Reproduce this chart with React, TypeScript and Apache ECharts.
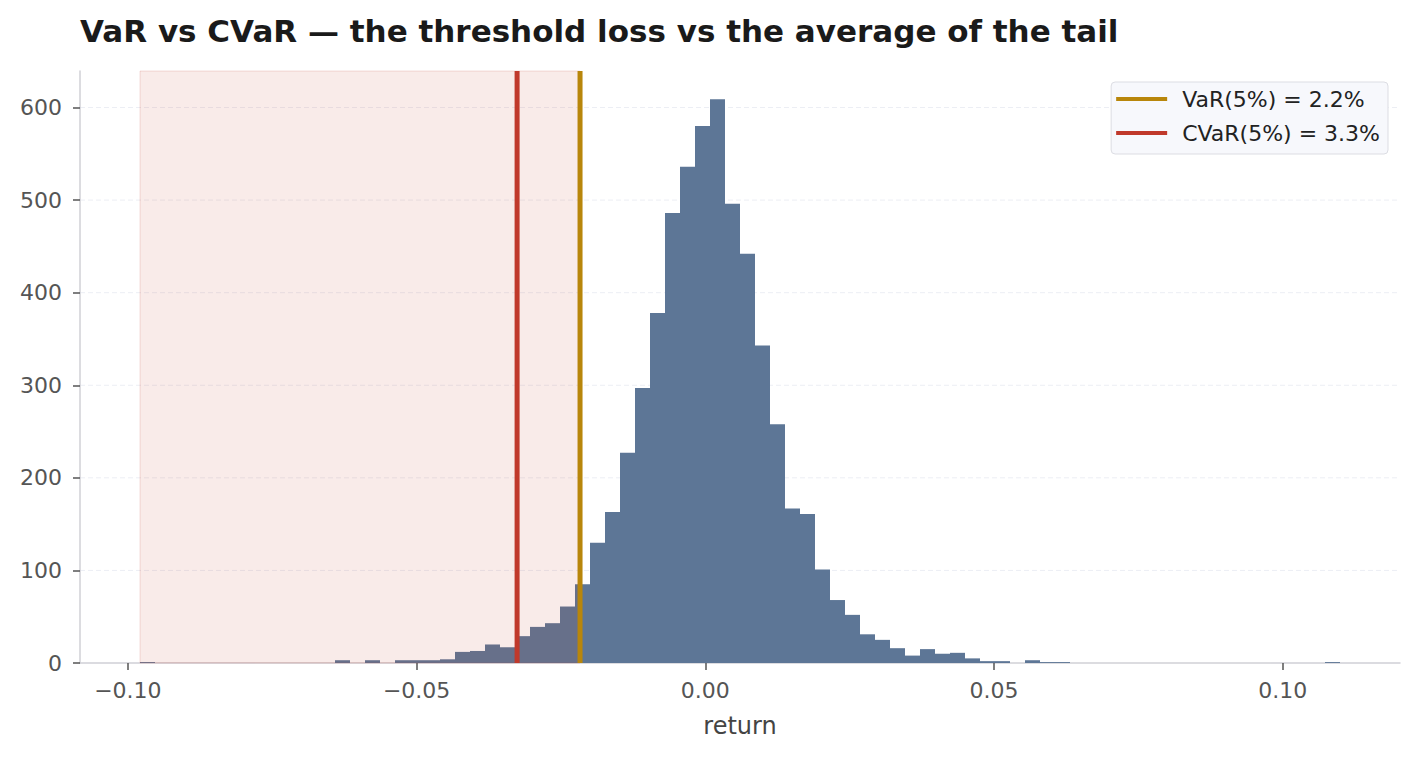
import React, { useEffect, useRef } from "react";
import * as echarts from "echarts";

// Histogram of daily returns: range of the sample and counts per bin (80 equal bins)
const RETURN_MIN = -0.0979;
const RETURN_MAX = 0.1099;
const BIN_COUNTS = [
  1, 0, 0, 0, 0, 0, 0, 0, 0, 0,
  0, 0, 0, 3, 0, 3, 0, 3, 3, 3,
  4, 12, 13, 20, 17, 29, 39, 43, 61, 85,
  130, 163, 227, 297, 378, 486, 536, 580, 609, 496,
  442, 343, 258, 167, 161, 101, 68, 52, 31, 25,
  16, 8, 15, 10, 11, 5, 2, 2, 0, 3,
  1, 1, 0, 0, 0, 0, 0, 0, 0, 0,
  0, 0, 0, 0, 0, 0, 0, 0, 0, 1,
];

// Risk measures at the 5% level (as positive losses)
const VAR_5 = 0.0217;
const CVAR_5 = 0.0326;

const X_TICKS = [-0.1, -0.05, 0, 0.05, 0.1];
const Y_TICKS = [0, 100, 200, 300, 400, 500, 600];

const BAR_COLOR = "#5d7696";
const VAR_COLOR = "#b8860b";
const CVAR_COLOR = "#c0392b";
const FONT = "DejaVu Sans";

export default function App() {
  const ref = useRef<HTMLDivElement>(null);

  useEffect(() => {
    if (!ref.current) return;
    const chart = echarts.init(ref.current, undefined, { renderer: "svg" });

    const nBins = BIN_COUNTS.length;
    const width = (RETURN_MAX - RETURN_MIN) / nBins;
    const bins = BIN_COUNTS.map((c, i) => [
      RETURN_MIN + i * width,
      RETURN_MIN + (i + 1) * width,
      c,
    ]);
    const span = RETURN_MAX - RETURN_MIN;
    const xMin = RETURN_MIN - 0.05 * span;
    const xMax = RETURN_MAX + 0.05 * span;
    const yMax = Math.max(...BIN_COUNTS) * 1.05;

    const varLabel = `VaR(5%) = ${(VAR_5 * 100).toFixed(1)}%`;
    const cvarLabel = `CVaR(5%) = ${(CVAR_5 * 100).toFixed(1)}%`;

    chart.setOption({
      animation: false,
      backgroundColor: "#ffffff",
      textStyle: { fontFamily: FONT },
      title: {
        text: "VaR vs CVaR — the threshold loss vs the average of the tail",
        left: 75,
        top: 10,
        textStyle: { fontFamily: FONT, fontSize: 31, fontWeight: "bold", color: "#1a1a1a" },
      },
      legend: {
        orient: "vertical",
        right: 32,
        top: 82,
        data: [varLabel, cvarLabel],
        icon: "rect",
        itemWidth: 51,
        itemHeight: 4,
        itemGap: 12,
        padding: [6, 8, 10, 5],
        backgroundColor: "#f7f8fc",
        borderColor: "#dcdde3",
        borderWidth: 1,
        borderRadius: 4,
        textStyle: {
          fontFamily: FONT,
          fontSize: 22,
          lineHeight: 22,
          color: "#222",
          padding: [0, 0, 0, 10],
        },
      },
      grid: { left: 80, right: 20, top: 71, bottom: 97, containLabel: false },
      xAxis: {
        type: "value",
        min: xMin,
        max: xMax,
        name: "return",
        nameLocation: "middle",
        nameGap: 51,
        nameTextStyle: { fontFamily: FONT, fontSize: 24, color: "#444" },
        axisLine: { show: true, onZero: false, lineStyle: { color: "#d0d0d6", width: 1.5 } },
        axisTick: { show: true, customValues: X_TICKS, length: 7, lineStyle: { color: "#555", width: 1.5 } },
        axisLabel: {
          customValues: X_TICKS,
          formatter: (v: number) => v.toFixed(2).replace("-", "\u2212"),
          color: "#555",
          fontSize: 22,
          margin: 16,
        },
        splitLine: { show: false },
      },
      yAxis: {
        type: "value",
        min: 0,
        max: yMax,
        axisLine: { show: true, onZero: false, lineStyle: { color: "#d0d0d6", width: 1.5 } },
        axisTick: { show: true, customValues: Y_TICKS, length: 7, lineStyle: { color: "#555", width: 1.5 } },
        axisLabel: { customValues: Y_TICKS, color: "#555", fontSize: 22, margin: 18 },
        splitLine: { show: false },
      },
      series: [
        {
          // horizontal dashed gridlines, kept behind the bars
          type: "custom",
          z: 0,
          silent: true,
          data: Y_TICKS.filter((t) => t > 0).map((t) => [t]),
          encode: { y: 0 },
          renderItem: (params: any, api: any) => {
            const cs = params.coordSys;
            const y = api.coord([xMin, api.value(0)])[1];
            return {
              type: "line",
              shape: { x1: cs.x, y1: y, x2: cs.x + cs.width, y2: y },
              style: { stroke: "#eceef4", lineWidth: 1, lineDash: [5, 3] },
            };
          },
        },
        {
          name: "returns",
          type: "custom",
          z: 2,
          data: bins,
          encode: { x: [0, 1], y: 2 },
          renderItem: (params: any, api: any) => {
            const p0 = api.coord([api.value(0), api.value(2)]);
            const p1 = api.coord([api.value(1), 0]);
            return {
              type: "rect",
              shape: { x: p0[0], y: p0[1], width: p1[0] - p0[0], height: p1[1] - p0[1] },
              style: { fill: BAR_COLOR },
            };
          },
        },
        {
          // shaded tail: every return below the VaR threshold
          type: "custom",
          z: 3,
          silent: true,
          data: [[RETURN_MIN, -VAR_5]],
          encode: { x: [0, 1] },
          renderItem: (params: any, api: any) => {
            const cs = params.coordSys;
            const xa = api.coord([api.value(0), 0])[0];
            const xb = api.coord([api.value(1), 0])[0];
            return {
              type: "rect",
              shape: { x: xa, y: cs.y, width: xb - xa, height: cs.height },
              style: {
                fill: "rgba(192,57,43,0.1)",
                stroke: "rgba(192,57,43,0.16)",
                lineWidth: 1,
              },
            };
          },
        },
        {
          name: varLabel,
          type: "line",
          z: 5,
          symbol: "none",
          color: VAR_COLOR,
          lineStyle: { color: VAR_COLOR, width: 5 },
          data: [[-VAR_5, 0], [-VAR_5, yMax]],
        },
        {
          name: cvarLabel,
          type: "line",
          z: 5,
          symbol: "none",
          color: CVAR_COLOR,
          lineStyle: { color: CVAR_COLOR, width: 5 },
          data: [[-CVAR_5, 0], [-CVAR_5, yMax]],
        },
      ],
    });

    return () => chart.dispose();
  }, []);

  return (
    <div
      ref={ref}
      style={{ position: "fixed", left: 0, top: 0, width: 1420, height: 760, background: "#fff" }}
    />
  );
}
